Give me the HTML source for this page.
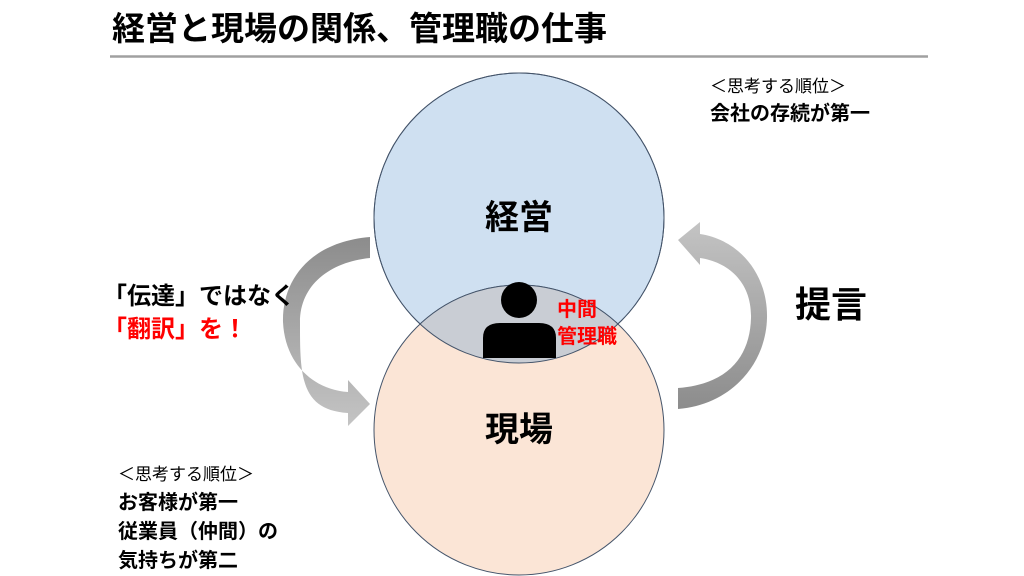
<!DOCTYPE html>
<html><head><meta charset="utf-8"><style>
body{margin:0;width:1024px;height:576px;background:#fff;overflow:hidden;position:relative;font-family:"Liberation Sans","Noto Sans CJK JP",sans-serif;}
.t{position:absolute;white-space:nowrap;font-weight:bold;color:#000;line-height:1;}
</style></head><body>
<svg width="1024" height="576" style="position:absolute;left:0;top:0">
<defs>
<linearGradient id="gl" x1="0" y1="0" x2="0" y2="1"><stop offset="0" stop-color="#8c8c8c"/><stop offset="1" stop-color="#c4c4c4"/></linearGradient>
<linearGradient id="gr" x1="0" y1="1" x2="0" y2="0"><stop offset="0" stop-color="#8c8c8c"/><stop offset="1" stop-color="#c4c4c4"/></linearGradient>
<clipPath id="ct"><circle cx="519" cy="218" r="145"/></clipPath>
</defs>
<line x1="110" y1="56.5" x2="928" y2="56.5" stroke="#a0a0a0" stroke-width="2.5"/>
<path d="M370,237 C310,242 282,280 283,322 C285,365 315,390 348,392 L348,380 L370,404 L348,426 L348,413 C300,410 300,375 300,322 C300,285 330,262 370,258 Z" fill="url(#gl)"/>
<path d="M678,388 C730,384 750,355 751,318 C752,282 728,262 700,258 L700,265 L678,240 L700,222 L700,234 C740,240 768,275 767,318 C766,365 730,405 678,409 Z" fill="url(#gr)"/>
<circle cx="519" cy="218" r="145" fill="#cfe0f1" stroke="#44546a" stroke-width="1"/>
<circle cx="519" cy="430" r="145" fill="#fbe5d6" stroke="#44546a" stroke-width="1"/>
<circle cx="519" cy="430" r="145" fill="#c9cdd4" stroke="#44546a" stroke-width="1" clip-path="url(#ct)"/>
<circle cx="519" cy="218" r="145" fill="none" stroke="#44546a" stroke-width="1"/>
<circle cx="519" cy="300" r="18" fill="#000"/>
<path d="M483,358 L483,338 Q483,323 500,323 L539,323 Q556,323 556,338 L556,358 Z" fill="#000"/>
</svg>
<div class="t" style="left:112px;top:12px;font-size:33px;">経営と現場の関係、管理職の仕事</div>
<div class="t" style="left:710px;top:78px;font-size:17px;font-weight:normal;">＜思考する順位＞</div>
<div class="t" style="left:710px;top:104px;font-size:20px;">会社の存続が第一</div>
<div class="t" style="left:485px;top:201px;font-size:34px;">経営</div>
<div class="t" style="left:485px;top:413px;font-size:34px;">現場</div>
<div class="t" style="left:795px;top:287px;font-size:36px;">提言</div>
<div class="t" style="left:103px;top:285px;font-size:24px;">「伝達」ではなく</div>
<div class="t" style="left:103px;top:318px;font-size:24px;color:#ff0000;">「翻訳」を！</div>
<div class="t" style="left:557px;top:300px;font-size:20px;color:#ff0000;">中間</div>
<div class="t" style="left:557px;top:327px;font-size:20px;color:#ff0000;">管理職</div>
<div class="t" style="left:118px;top:466px;font-size:17px;font-weight:normal;">＜思考する順位＞</div>
<div class="t" style="left:118px;top:493px;font-size:20px;">お客様が第一</div>
<div class="t" style="left:118px;top:522px;font-size:20px;">従業員（仲間）の</div>
<div class="t" style="left:118px;top:551px;font-size:20px;">気持ちが第二</div>
</body></html>
